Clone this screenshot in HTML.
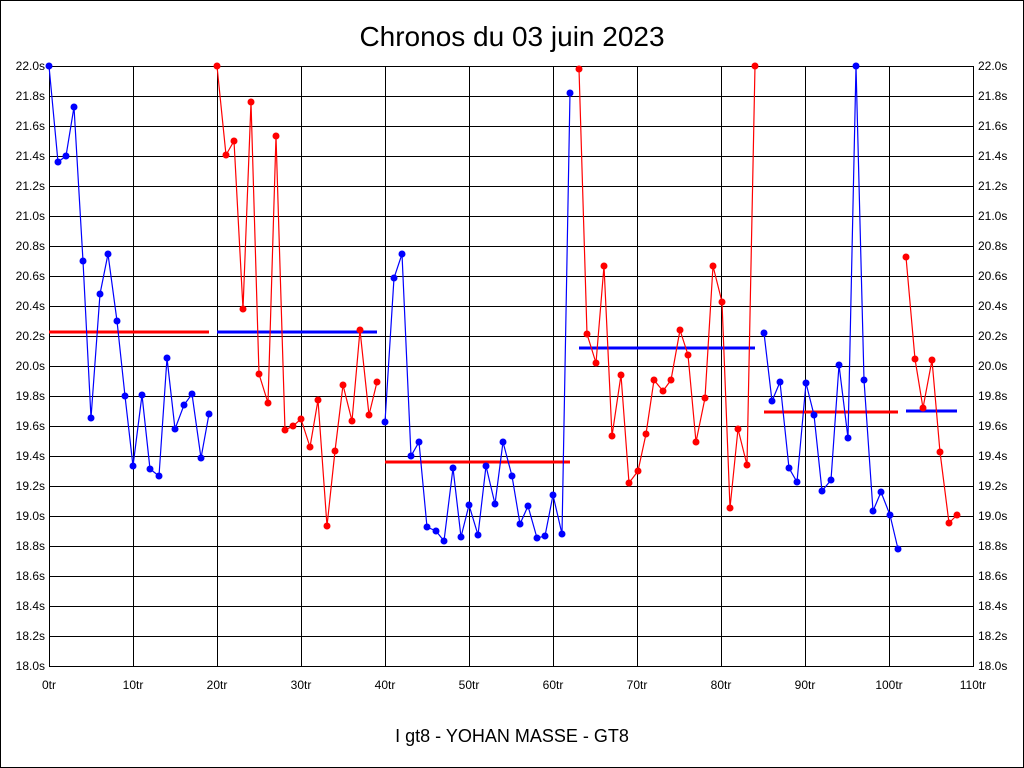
<!DOCTYPE html>
<html><head><meta charset="utf-8"><style>
html,body{margin:0;padding:0;background:#fff}
svg{display:block;font-family:"Liberation Sans",sans-serif}
</style></head><body>
<svg width="1024" height="768" xmlns="http://www.w3.org/2000/svg">
<rect x="0.5" y="0.5" width="1023" height="767" fill="#fff" stroke="#000"/>
<text x="512" y="46" font-size="28" text-anchor="middle">Chronos du 03 juin 2023</text>
<text x="512" y="742" font-size="18" text-anchor="middle">I gt8 - YOHAN MASSE - GT8</text>
<g id="grid" stroke="#000" stroke-width="1"></g>
<g id="lab" font-size="12"></g>
<g id="data"></g>
<script>
var g=document.getElementById('grid'),l=document.getElementById('lab'),d=document.getElementById('data');
var NS='http://www.w3.org/2000/svg';
function el(p,t,a,txt){var e=document.createElementNS(NS,t);for(var k in a)e.setAttribute(k,a[k]);if(txt)e.textContent=txt;p.appendChild(e);return e;}
for(var i=0;i<=11;i++){var x=49+i*84;el(g,'line',{x1:x+.5,y1:66,x2:x+.5,y2:666});
el(l,'text',{x:x,y:689,'text-anchor':'middle'},(i*10)+'tr');}
for(var j=0;j<=20;j++){var y=66+j*30;el(g,'line',{x1:49,y1:y+.5,x2:974,y2:y+.5});
var v=(22-j*0.2).toFixed(1)+'s';
el(l,'text',{x:45,y:y+4,'text-anchor':'end'},v);el(l,'text',{x:978,y:y+4},v);}
var segs=[
['#00f',[[49,66],[58,162],[66,156],[74,107],[83,261],[91,418],[100,294],[108,254],[117,321],[125,396],[133,466],[142,395],[150,469],[159,476],[167,358],[175,429],[184,405],[192,394],[201,458],[209,414]]],
['#f00',[[217,66],[226,155],[234,141],[243,309],[251,102],[259,374],[268,403],[276,136],[285,430],[293,426],[301,419],[310,447],[318,400],[327,526],[335,451],[343,385],[352,421],[360,330],[369,415],[377,382]]],
['#00f',[[385,422],[394,278],[402,254],[411,456],[419,442],[427,527],[436,531],[444,541],[453,468],[461,537],[469,505],[478,535],[486,466],[495,504],[503,442],[512,476],[520,524],[528,506],[537,538],[545,536],[553,495],[562,534],[570,93]]],
['#f00',[[579,69],[587,334],[596,363],[604,266],[612,436],[621,375],[629,483],[638,471],[646,434],[654,380],[663,391],[671,380],[680,330],[688,355],[696,442],[705,398],[713,266],[722,302],[730,508],[738,429],[747,465],[755,66]]],
['#00f',[[764,333],[772,401],[780,382],[789,468],[797,482],[806,383],[814,415],[822,491],[831,480],[839,365],[848,438],[856,66],[864,380],[873,511],[881,492],[890,515],[898,549]]],
['#f00',[[906,257],[915,359],[923,408],[932,360],[940,452],[949,523],[957,515]]]];
var means=[['#f00',49,209,332],['#00f',217,377,332],['#f00',385,570,462],['#00f',579,755,348],['#f00',764,898,412],['#00f',906,957,411]];
means.forEach(function(m){el(d,'line',{x1:m[1],x2:m[2],y1:m[3],y2:m[3],stroke:m[0],'stroke-width':3});});
segs.forEach(function(s){el(d,'polyline',{points:s[1].map(function(p){return p.join(',')}).join(' '),fill:'none',stroke:s[0],'stroke-width':1.2});
s[1].forEach(function(p){el(d,'circle',{cx:p[0],cy:p[1],r:3.5,fill:s[0]});});});
</script>
</svg>
</body></html>
